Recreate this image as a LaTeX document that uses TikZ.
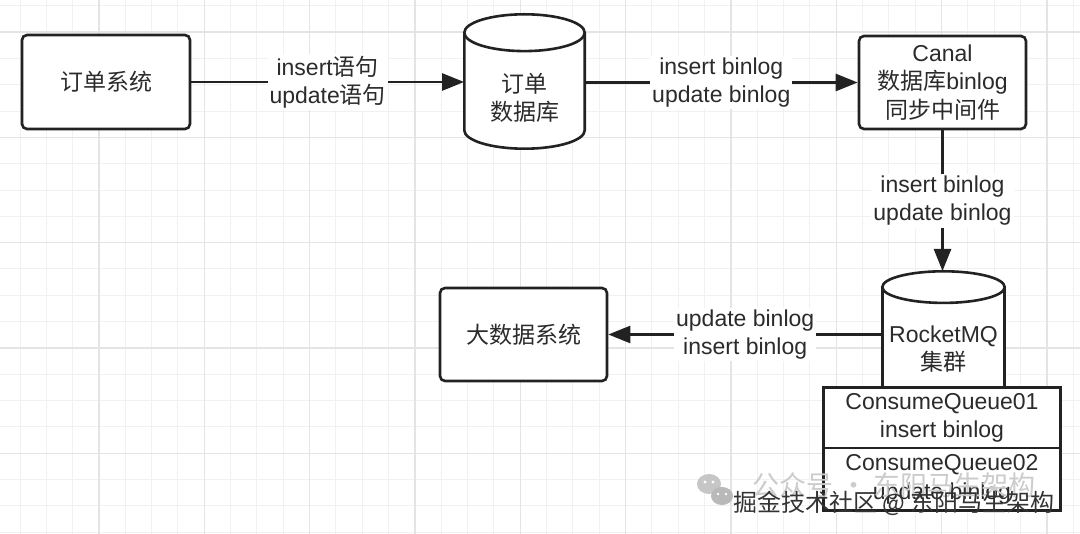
\documentclass[tikz,border=0pt]{standalone}
\usepackage{fontspec}
\setmainfont{Liberation Sans}
\newfontfamily\cjk{Noto Sans CJK SC}
\usepackage{tikz}
\usetikzlibrary{arrows.meta}
\definecolor{linec}{HTML}{222222}
\definecolor{txtc}{HTML}{2B2B2B}
\definecolor{gridminor}{HTML}{F1F1F1}
\definecolor{gridmajor}{HTML}{E4E4E4}

\begin{document}
\begin{tikzpicture}[x=1pt, y=-1pt,
    every node/.style={font=\fontsize{23}{28.5}\selectfont, text=txtc},
    box/.style={draw=linec, line width=2.6pt, rounded corners=5pt, fill=white, align=center, inner sep=0pt},
    qbox/.style={draw=linec, line width=2.6pt, fill=white, align=center, inner sep=0pt, minimum width=236.7pt},
    cyl/.style={draw=linec, line width=2.6pt, fill=white},
    lbl/.style={fill=white, inner sep=2pt, align=center},
    arr/.style={draw=linec, line width=2.6pt, -{Triangle[length=22pt, width=17pt]}}]
    \useasboundingbox (0,0) rectangle (1080,534);
    \fill[white] (0,0) rectangle (1080,534);

    % --- 背景网格 ---
    \foreach \gx in {0,...,40}
        \draw[gridminor, line width=1pt] ({20+26.33*\gx},0) -- ++(0,534);
    \foreach \gy in {0,...,20}
        \draw[gridminor, line width=1pt] (0,{5.7+26.33*\gy}) -- ++(1080,0);
    \foreach \gx in {0,...,9}
        \draw[gridmajor, line width=1.2pt] ({99+105.33*\gx},0) -- ++(0,534);
    \foreach \gy in {0,...,4}
        \draw[gridmajor, line width=1.2pt] (0,{32+105.33*\gy}) -- ++(1080,0);

    % --- 订单系统 ---
    \node[box, minimum width=168pt, minimum height=94pt] (sys) at (106,82) {\cjk 订单系统};

    % --- 订单数据库 (圆柱) ---
    \draw[cyl] (464.3,32.7) -- (464.3,130.3) arc[start angle=180, end angle=0, x radius=60.2, y radius=18.4] -- (584.7,32.7);
    \draw[cyl] (524.5,32.7) ellipse[x radius=60.2, y radius=18.4];
    \node[minimum width=120.4pt, align=center] (db) at (524.5,98) {\cjk 订单\\\cjk 数据库};

    % --- Canal ---
    \node[box, minimum width=167pt, minimum height=93pt] (canal) at (942.5,82.5) {Canal\\{\cjk 数据库}binlog\\{\cjk 同步中间件}};

    % --- RocketMQ集群 (圆柱) ---
    \fill[white] (882.3,287.1) rectangle (1004.7,386);
    \draw[cyl] (882.3,287.1) -- (882.3,386) (1004.7,287.1) -- (1004.7,386);
    \draw[cyl] (943.5,287.1) ellipse[x radius=61.2, y radius=15.8];
    \coordinate (mqtop) at (943.5,271);
    \node[minimum width=122.4pt, minimum height=158pt, align=center] (mq) at (943.5,349) {RocketMQ\\\cjk 集群};

    % --- ConsumeQueue ---
    \node[qbox, minimum height=60.7pt] (q1) at (942,417.7) {ConsumeQueue01\\insert binlog};
    \node[qbox, minimum height=62.7pt] (q2) at (942,479.3) {ConsumeQueue02\\update binlog};

    % --- 大数据系统 ---
    \node[box, minimum width=167pt, minimum height=93pt] (big) at (523.5,334.5) {\cjk 大数据系统};

    % --- 连线 ---
    \draw[arr] (sys.east) -- node[lbl] (l1) {insert{\cjk 语句}\\update{\cjk 语句}} (sys.east -| db.west);
    \draw[arr] (db.east |- canal.west) -- node[lbl] (l2) {insert binlog\\update binlog} (canal.west);
    \draw[arr] (canal.south) -- node[lbl] (l3) {insert binlog\\update binlog} (canal.south |- mqtop);
    \draw[arr] (mq.west |- big.east) -- node[lbl] (l4) {update binlog\\insert binlog} (big.east);

    % --- 水印 ---
    \fill[gray!45] (709,484) ellipse[x radius=12, y radius=10];
    \fill[gray!55] (722,496) ellipse[x radius=11, y radius=9];
    \foreach \ex in {705,713} \fill[white] (\ex,482) circle (1.6);
    \foreach \ex in {718,726} \fill[white] (\ex,494) circle (1.4);
    \node[font=\fontsize{27}{27}\selectfont\cjk, text=gray!40] (wm1) at (894,485) {公众号 · 东阳马生架构};
    \node[font=\fontsize{24}{24}\selectfont\cjk, text=black!80] (wm2) at (894,503) {掘金技术社区 @ 东阳马生架构};
\end{tikzpicture}
\end{document}
